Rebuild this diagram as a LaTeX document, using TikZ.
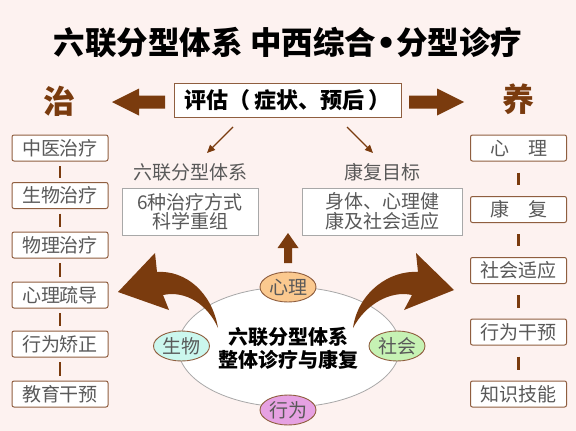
\documentclass[tikz,border=0pt]{standalone}
\usepackage{fontspec}
\setmainfont{Noto Sans CJK SC}
\newfontfamily\symfont{DejaVu Sans}
\usetikzlibrary{shapes.geometric,arrows.meta}
\definecolor{bg}{HTML}{FDF2F0}
\definecolor{arrowbrown}{HTML}{7A3B0E}
\definecolor{boxbrown}{HTML}{8F5E3F}
\definecolor{graytext}{HTML}{595959}
\definecolor{ringgray}{HTML}{A8A8A8}
\definecolor{fxinli}{HTML}{FBC98F}
\definecolor{fshengwu}{HTML}{CBF7EE}
\definecolor{fshehui}{HTML}{C6F2B4}
\definecolor{fxingwei}{HTML}{E6A1E2}
\tikzset{
  sidebox/.style={draw=boxbrown, line width=1pt, fill=white, rounded corners=2pt,
    minimum width=96pt, minimum height=26pt, inner sep=0pt,
    font=\fontsize{19}{19}\selectfont, text=graytext},
  midbox/.style={draw=ringgray, line width=0.8pt, fill=white, minimum width=136pt,
    minimum height=47pt, inner sep=0pt, align=center,
    font=\fontsize{19}{19.5}\selectfont, text=graytext},
  midlabel/.style={font=\fontsize{19}{19}\selectfont, text=graytext, inner sep=0pt},
  link/.style={draw=arrowbrown, line width=2.6pt},
  thinarrow/.style={draw=arrowbrown, line width=1.4pt, -{Triangle[length=8pt,width=7pt]}},
  smallell/.style={ellipse, draw=boxbrown, line width=0.9pt, minimum width=56pt,
    minimum height=30pt, inner sep=0pt, font=\fontsize{19}{19}\selectfont, text=graytext},
  bigarrow/.style={fill=arrowbrown},
}
\begin{document}
\begin{tikzpicture}[x=1pt,y=-1pt]
\fill[bg] (0,0) rectangle (576,431);
\useasboundingbox (0,0) rectangle (576,431);

% title
\node[font=\fontsize{31.5}{31.5}\selectfont\bfseries, inner sep=0pt] (title) at (288,43) {六联分型体系 中西综合{\symfont\bfseries •}分型诊疗};

% top row
\node[font=\fontsize{32}{32}\selectfont\bfseries, text=arrowbrown, inner sep=0pt] (zhi) at (59,101) {治};
\node[font=\fontsize{32}{32}\selectfont\bfseries, text=arrowbrown, inner sep=0pt] (yang) at (518,99) {养};
\node[draw=boxbrown, line width=1pt, fill=white, minimum width=227pt, minimum height=34pt, inner sep=0pt,
  font=\fontsize{22}{22}\selectfont\bfseries] (pg) at (287.5,100) {评估（\,症状、预后\,）};
\fill[bigarrow] (112,102) -- (139,88.5) -- (139,95.5) -- (165,95.5) -- (165,108.5) -- (139,108.5) -- (139,115.5) -- cycle;
\fill[bigarrow] (464,102) -- (437,88.5) -- (437,95.5) -- (409,95.5) -- (409,108.5) -- (437,108.5) -- (437,115.5) -- cycle;

% middle labels and boxes
\node[midlabel] (lblA) at (190,172) {六联分型体系};
\node[midlabel] (lblB) at (382,172) {康复目标};
\node[midbox] (boxA) at (190,211.5) {6种治疗方式\\科学重组};
\node[midbox, minimum width=160pt] (boxB) at (382.5,211.5) {身体、心理健\\康及社会适应};
\coordinate (sa) at (233,127);
\coordinate (ea) at (207,153);
\coordinate (sb) at (347,127);
\coordinate (eb) at (373,153);
\draw[thinarrow] (sa) -- (ea);
\draw[thinarrow] (sb) -- (eb);

% left column
\node[sidebox] (l1) at (60,148) {中医治疗};
\node[sidebox] (l2) at (60,195.5) {生物治疗};
\node[sidebox] (l3) at (60,245) {物理治疗};
\node[sidebox] (l4) at (60,295) {心理疏导};
\node[sidebox] (l5) at (60,344) {行为矫正};
\node[sidebox] (l6) at (60,394) {教育干预};
\foreach \a/\b in {l1/l2,l2/l3,l3/l4,l4/l5,l5/l6}
  \draw[link, shorten <=4.5pt, shorten >=4.5pt] (\a.south) -- (\b.north);

% right column
\node[sidebox] (r1) at (518.5,148) {心\quad 理};
\node[sidebox] (r2) at (518.5,209.5) {康\quad 复};
\node[sidebox] (r3) at (518.5,270.5) {社会适应};
\node[sidebox] (r4) at (518.5,332) {行为干预};
\node[sidebox] (r5) at (518.5,394) {知识技能};
\foreach \a/\b in {r1/r2,r2/r3,r3/r4,r4/r5}
  \draw[link, shorten <=11pt, shorten >=11pt] (\a.south) -- (\b.north);

% central ellipse
\node[ellipse, draw=ringgray, line width=0.8pt, fill=white, minimum width=222pt, minimum height=120pt, inner sep=0pt] (ring) at (289,347) {};

% up arrow
\fill[bigarrow] (288,233) -- (298.5,248) -- (292,248) -- (292,263) -- (284,263) -- (284,248) -- (277.5,248) -- cycle;

% curved arrows
\fill[bigarrow] (118,292) -- (155,253) -- (157,272) .. controls (185,270) and (212,292) .. (218,328)
  .. controls (208,305) and (186,290) .. (163,295) -- (169,310) -- cycle;
\fill[bigarrow] (454,290) -- (416,253) -- (418,272) .. controls (390,270) and (358,292) .. (353,328)
  .. controls (365,305) and (390,290) .. (412,295) -- (404,310) -- cycle;

% small ellipses
\node[smallell, fill=fxinli] (xl) at (288,287) {心理};
\node[smallell, fill=fshengwu] (sw) at (181.5,346) {生物};
\node[smallell, fill=fshehui] (sh) at (397,346) {社会};
\node[smallell, fill=fxingwei] (xw) at (288,410) {行为};

% central text
\node[font=\fontsize{20}{23}\selectfont\bfseries, align=center, inner sep=0pt] (core) at (288,348) {六联分型体系\\整体诊疗与康复};
\end{tikzpicture}
\end{document}
